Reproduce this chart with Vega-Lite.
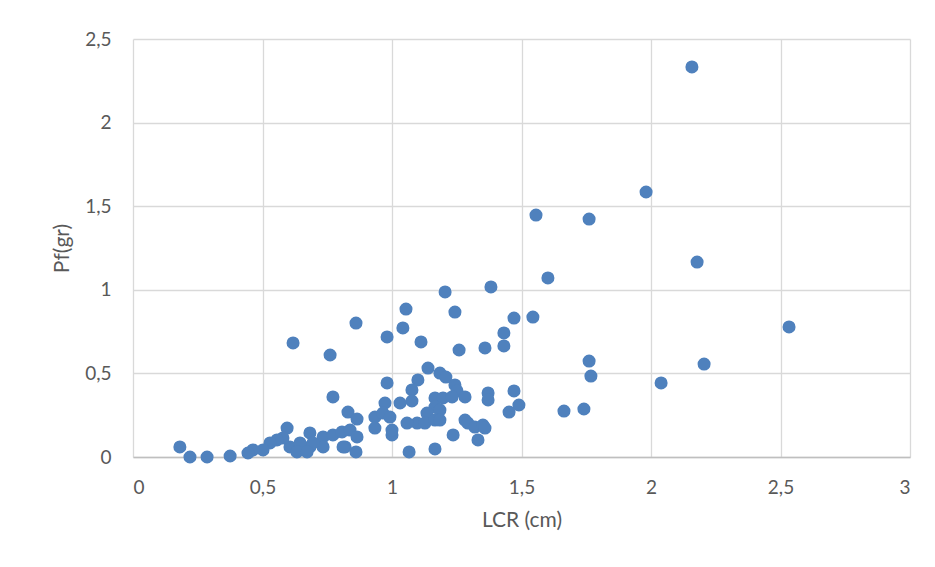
{
  "$schema": "https://vega.github.io/schema/vega-lite/v6.json",
  "autosize": {"type": "none"},
  "padding": {"left": 133, "top": 39, "right": 25, "bottom": 110},
  "width": 777,
  "height": 418,
  "background": "white",
  "config": {
    "view": {"stroke": null},
    "font": "Lato",
    "axis": {
      "labelFont": "Lato",
      "titleFont": "Lato",
      "labelColor": "#595959",
      "titleColor": "#595959",
      "labelFontSize": 19,
      "titleFontSize": 21,
      "titleFontWeight": "normal",
      "gridColor": "#d9d9d9",
      "gridWidth": 1.3,
      "ticks": false
    }
  },
  "data": {
    "values": [
      {"lcr": 2.158, "pf": 2.333}, {"lcr": 1.981, "pf": 1.585}, {"lcr": 1.556, "pf": 1.447}, {"lcr": 1.761, "pf": 1.423},
      {"lcr": 1.602, "pf": 1.071}, {"lcr": 2.178, "pf": 1.166}, {"lcr": 1.382, "pf": 1.017}, {"lcr": 1.205, "pf": 0.987},
      {"lcr": 1.054, "pf": 0.885}, {"lcr": 1.243, "pf": 0.867}, {"lcr": 0.861, "pf": 0.801}, {"lcr": 1.471, "pf": 0.831},
      {"lcr": 1.544, "pf": 0.837}, {"lcr": 2.533, "pf": 0.778}, {"lcr": 1.042, "pf": 0.772}, {"lcr": 0.981, "pf": 0.718},
      {"lcr": 1.432, "pf": 0.742}, {"lcr": 1.432, "pf": 0.664}, {"lcr": 1.112, "pf": 0.688}, {"lcr": 0.618, "pf": 0.682},
      {"lcr": 0.761, "pf": 0.61}, {"lcr": 1.259, "pf": 0.64}, {"lcr": 1.359, "pf": 0.652}, {"lcr": 1.761, "pf": 0.574},
      {"lcr": 2.205, "pf": 0.556}, {"lcr": 1.768, "pf": 0.484}, {"lcr": 2.039, "pf": 0.443},
      {"lcr": 1.139, "pf": 0.532}, {"lcr": 1.185, "pf": 0.502}, {"lcr": 1.208, "pf": 0.478}, {"lcr": 1.1, "pf": 0.461},
      {"lcr": 0.981, "pf": 0.443}, {"lcr": 0.772, "pf": 0.359}, {"lcr": 1.243, "pf": 0.431}, {"lcr": 1.251, "pf": 0.395},
      {"lcr": 1.471, "pf": 0.395}, {"lcr": 1.371, "pf": 0.383}, {"lcr": 1.371, "pf": 0.341}, {"lcr": 1.49, "pf": 0.311},
      {"lcr": 1.452, "pf": 0.269}, {"lcr": 1.664, "pf": 0.275}, {"lcr": 1.741, "pf": 0.287}, {"lcr": 1.077, "pf": 0.401},
      {"lcr": 1.077, "pf": 0.335}, {"lcr": 0.973, "pf": 0.323}, {"lcr": 1.031, "pf": 0.323}, {"lcr": 1.166, "pf": 0.353},
      {"lcr": 1.197, "pf": 0.353}, {"lcr": 1.232, "pf": 0.359}, {"lcr": 1.282, "pf": 0.359}, {"lcr": 1.166, "pf": 0.299},
      {"lcr": 1.185, "pf": 0.281}, {"lcr": 1.135, "pf": 0.263}, {"lcr": 0.83, "pf": 0.269}, {"lcr": 0.865, "pf": 0.227},
      {"lcr": 0.934, "pf": 0.239}, {"lcr": 0.965, "pf": 0.263}, {"lcr": 0.992, "pf": 0.239}, {"lcr": 1.097, "pf": 0.203},
      {"lcr": 1.127, "pf": 0.203}, {"lcr": 1.166, "pf": 0.221}, {"lcr": 1.185, "pf": 0.221}, {"lcr": 1.058, "pf": 0.203},
      {"lcr": 1.282, "pf": 0.221}, {"lcr": 1.293, "pf": 0.203}, {"lcr": 1.32, "pf": 0.179}, {"lcr": 1.351, "pf": 0.191},
      {"lcr": 1.359, "pf": 0.173}, {"lcr": 1.236, "pf": 0.132}, {"lcr": 1.332, "pf": 0.102}, {"lcr": 0.934, "pf": 0.173},
      {"lcr": 1.0, "pf": 0.132}, {"lcr": 1.0, "pf": 0.161}, {"lcr": 1.166, "pf": 0.048}, {"lcr": 1.066, "pf": 0.03},
      {"lcr": 0.861, "pf": 0.03}, {"lcr": 0.819, "pf": 0.06}, {"lcr": 0.683, "pf": 0.144}, {"lcr": 0.734, "pf": 0.12},
      {"lcr": 0.772, "pf": 0.132}, {"lcr": 0.807, "pf": 0.15}, {"lcr": 0.838, "pf": 0.161}, {"lcr": 0.865, "pf": 0.12},
      {"lcr": 0.656, "pf": 0.06}, {"lcr": 0.683, "pf": 0.06}, {"lcr": 0.734, "pf": 0.06}, {"lcr": 0.811, "pf": 0.06},
      {"lcr": 0.595, "pf": 0.173}, {"lcr": 0.606, "pf": 0.06}, {"lcr": 0.645, "pf": 0.084}, {"lcr": 0.695, "pf": 0.084},
      {"lcr": 0.633, "pf": 0.03}, {"lcr": 0.672, "pf": 0.03}, {"lcr": 0.579, "pf": 0.114}, {"lcr": 0.556, "pf": 0.102},
      {"lcr": 0.529, "pf": 0.084}, {"lcr": 0.502, "pf": 0.042}, {"lcr": 0.463, "pf": 0.042}, {"lcr": 0.444, "pf": 0.024},
      {"lcr": 0.375, "pf": 0.006}, {"lcr": 0.286, "pf": 0.0}, {"lcr": 0.22, "pf": 0.0}, {"lcr": 0.181, "pf": 0.06}
    ]
  },
  "mark": {"type": "point", "filled": true, "opacity": 1, "color": "#4f81bd", "size": 170, "clip": false},
  "encoding": {
    "x": {
      "field": "lcr", "type": "quantitative",
      "scale": {"domain": [0, 3], "nice": false, "zero": true},
      "axis": {
        "title": "LCR (cm)",
        "values": [0, 0.5, 1, 1.5, 2, 2.5, 3],
        "labelExpr": "replace(toString(datum.value), '.', ',')",
        "labelPadding": 21,
        "titlePadding": 12,
        "domain": true,
        "domainColor": "#bfbfbf",
        "domainWidth": 1.3
      }
    },
    "y": {
      "field": "pf", "type": "quantitative",
      "scale": {"domain": [0, 2.5], "nice": false},
      "axis": {
        "title": "Pf(gr)",
        "values": [0, 0.5, 1, 1.5, 2, 2.5],
        "labelExpr": "replace(toString(datum.value), '.', ',')",
        "labelPadding": 22,
        "titlePadding": 12,
        "domain": false
      }
    }
  }
}
